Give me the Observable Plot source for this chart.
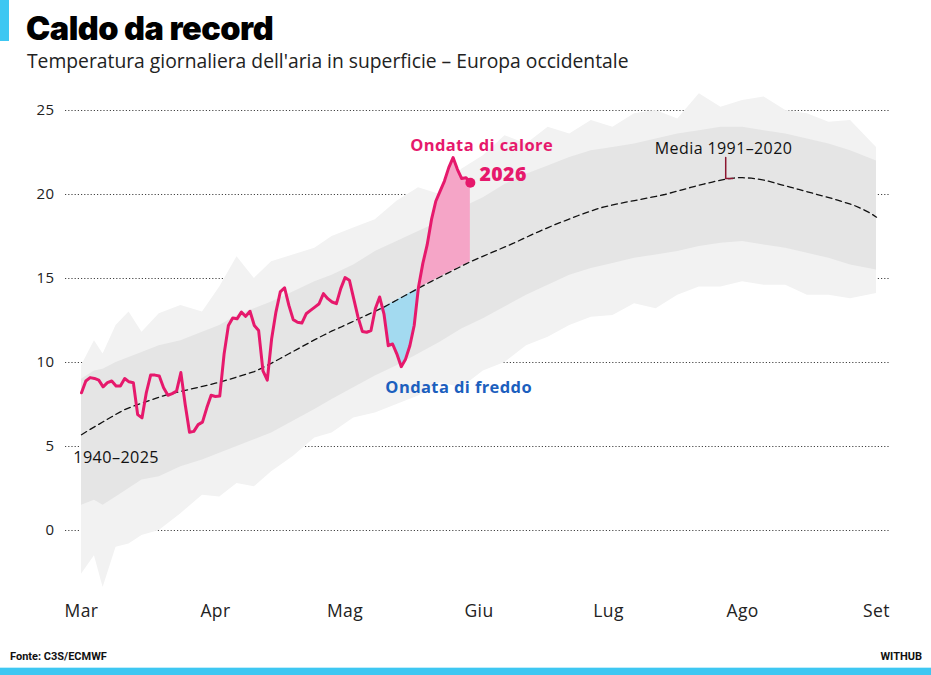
<!DOCTYPE html>
<html lang="it">
<head>
<meta charset="utf-8">
<script src="https://cdn.jsdelivr.net/npm/d3@7"></script>
<script src="https://cdn.jsdelivr.net/npm/@observablehq/plot@0.6"></script>
<style>
  html, body { margin: 0; padding: 0; background: #fff; }
  body { width: 931px; height: 675px; position: relative; overflow: hidden; font-family: "Open Sans", sans-serif; }
  .accent { position: absolute; left: 0; top: 0; width: 9px; height: 41px; background: #3ec7f2; }
  h1 { position: absolute; left: 26px; top: 11px; margin: 0; font-family: Inter, sans-serif; font-weight: 900; font-size: 32.5px; letter-spacing: -0.5px; color: #000; line-height: 1.1; }
  .sub { position: absolute; left: 27px; top: 49px; margin: 0; font-size: 19.3px; color: #222; line-height: 1.2; }
  #chart { position: absolute; left: 0; top: 80px; }
  #chart svg text { letter-spacing: 0.4px; }
  .src { position: absolute; left: 10px; top: 650px; font-family: "Liberation Sans Narrow", "Roboto", sans-serif; font-weight: 700; font-size: 11px; color: #111; }
  .brand { position: absolute; right: 9px; top: 650px; font-family: "Liberation Sans Narrow", "Roboto", sans-serif; font-weight: 700; font-size: 11px; color: #111; }
  .bar { position: absolute; left: 0; bottom: 0; width: 931px; height: 7px; background: #3ec7f2; border-top: 1px solid #bfeefc; }
</style>
</head>
<body>
<div class="accent"></div>
<h1>Caldo da record</h1>
<p class="sub">Temperatura giornaliera dell'aria in superficie – Europa occidentale</p>
<div id="chart"></div>
<div class="src">Fonte: C3S/ECMWF</div>
<div class="brand">WITHUB</div>
<div class="bar"></div>
<script>
// Season runs from 1 March to 1 September; day index 0 = 1 March
const seasonStart = new Date(Date.UTC(2026, 2, 1));
const monthLabels = ["Mar", "Apr", "Mag", "Giu", "Lug", "Ago", "Set"];
const yTicks = [0, 5, 10, 15, 20, 25];

// 2026 daily temperature (°C), 1 March – 30 May
const temp2026 = [
  8.2, 8.9, 9.1, 9.05, 8.95, 8.55, 8.8, 8.9, 8.6, 8.6,
  9.05, 8.85, 8.8, 6.9, 6.7, 8.2, 9.25, 9.25, 9.2, 8.5,
  8.05, 8.15, 8.3, 9.4, 7.5, 5.85, 5.9, 6.3, 6.45, 7.3,
  8.05, 7.98, 8.0, 10.5, 12.2, 12.65, 12.6, 13.0, 12.75, 13.05,
  12.2, 11.9, 9.5, 8.95, 11.4, 13.0, 14.2, 14.45, 13.4, 12.55,
  12.4, 12.35, 12.9, 13.1, 13.3, 13.5, 14.1, 13.8, 13.6, 13.5,
  14.4, 15.05, 14.9, 13.8, 12.7, 11.85, 11.8, 11.9, 13.2, 13.9,
  12.9, 11.0, 11.1, 10.5, 9.75, 10.2, 11.0, 12.2, 14.5, 15.9,
  17.0, 18.5, 19.6, 20.2, 20.8, 21.6, 22.2, 21.5, 20.95, 21.0,
  20.7
];

// Daily mean 1991–2020 (°C), 1 March – 1 September
const media = [
  5.70, 5.86, 6.02, 6.17, 6.32, 6.47, 6.62, 6.77, 6.92, 7.06,
  7.20, 7.30, 7.40, 7.49, 7.58, 7.67, 7.76, 7.85, 7.94, 8.02,
  8.10, 8.16, 8.22, 8.28, 8.34, 8.40, 8.46, 8.52, 8.58, 8.64,
  8.70, 8.77, 8.84, 8.91, 8.98, 9.06, 9.14, 9.22, 9.30, 9.38,
  9.46, 9.58, 9.70, 9.83, 9.96, 10.10, 10.24, 10.38, 10.52, 10.66,
  10.80, 10.94, 11.08, 11.22, 11.36, 11.49, 11.62, 11.75, 11.88, 11.99,
  12.10, 12.22, 12.34, 12.46, 12.58, 12.70, 12.82, 12.94, 13.06, 13.18,
  13.30, 13.44, 13.58, 13.72, 13.86, 14.00, 14.14, 14.28, 14.42, 14.56,
  14.70, 14.83, 14.96, 15.09, 15.22, 15.35, 15.48, 15.61, 15.74, 15.87,
  16.00, 16.11, 16.22, 16.33, 16.44, 16.55, 16.66, 16.77, 16.88, 16.99,
  17.10, 17.22, 17.34, 17.46, 17.58, 17.70, 17.81, 17.92, 18.03, 18.14,
  18.25, 18.35, 18.45, 18.55, 18.65, 18.75, 18.84, 18.93, 19.02, 19.11,
  19.20, 19.26, 19.32, 19.38, 19.44, 19.49, 19.54, 19.59, 19.64, 19.69,
  19.74, 19.79, 19.84, 19.89, 19.94, 20.00, 20.07, 20.14, 20.21, 20.28,
  20.35, 20.42, 20.49, 20.56, 20.62, 20.68, 20.74, 20.80, 20.86, 20.91,
  20.95, 20.98, 21.00, 21.00, 20.99, 20.97, 20.94, 20.90, 20.85, 20.79,
  20.72, 20.65, 20.58, 20.51, 20.44, 20.37, 20.30, 20.23, 20.16, 20.09,
  20.02, 19.95, 19.88, 19.81, 19.74, 19.66, 19.58, 19.50, 19.42, 19.33,
  19.22, 19.10, 18.97, 18.82, 18.65
];

// Spread of the 1940–2025 daily series: full range and dense core
const bandDays = [0, 3, 5, 8, 11, 14, 18, 23, 28, 32, 36, 40, 44, 49, 54, 58, 63, 68, 73, 78, 83, 88, 93, 98, 103, 108, 113, 118, 123, 128, 133, 138, 143, 148, 153, 158, 163, 168, 173, 178, 184];
const histMax  = [9.8, 11.3, 10.5, 12.2, 13.0, 11.8, 12.9, 13.4, 13.0, 14.5, 16.3, 15.0, 16.0, 16.4, 16.8, 17.5, 18.0, 18.5, 19.6, 20.4, 20.0, 21.5, 22.3, 23.5, 23.0, 24.0, 23.6, 24.4, 24.0, 24.8, 25.0, 24.5, 26.0, 25.2, 25.6, 25.8, 25.0, 24.8, 24.3, 24.4, 22.8];
const histMin  = [-2.6, -1.5, -3.4, -1.0, -0.8, -0.3, 0.0, 1.0, 2.1, 2.0, 2.8, 2.6, 3.5, 4.4, 5.5, 5.8, 6.7, 7.0, 7.5, 8.0, 8.8, 8.5, 9.5, 10.0, 11.0, 11.5, 12.2, 12.7, 12.8, 13.5, 13.2, 14.0, 14.5, 14.5, 14.8, 14.6, 14.6, 14.0, 14.0, 13.8, 14.1];
const coreLow  = [1.5, 1.8, 1.5, 2.0, 2.5, 3.0, 3.2, 3.8, 4.2, 4.6, 5.0, 5.4, 5.8, 6.5, 7.2, 7.8, 8.5, 9.2, 9.8, 10.5, 11.2, 12.0, 12.6, 13.3, 14.0, 14.6, 15.2, 15.6, 15.9, 16.2, 16.4, 16.6, 16.9, 17.1, 17.2, 17.0, 16.8, 16.5, 16.2, 15.8, 15.5];
const coreHigh = [9.0, 9.5, 9.6, 10.0, 10.3, 10.6, 11.0, 11.3, 11.8, 12.2, 12.8, 13.2, 13.6, 14.2, 14.8, 15.2, 15.8, 16.6, 17.2, 17.8, 18.4, 19.2, 19.8, 20.6, 21.2, 21.7, 22.2, 22.6, 22.8, 23.0, 23.3, 23.6, 23.8, 24.0, 24.0, 23.8, 23.6, 23.3, 23.0, 22.6, 22.0];

// Day ranges of the two highlighted spells
const coldSpell = [69, 78];
const heatSpell = [78, 90];

// Annotation anchors (day index, °C)
const labelCalore = {day: 92.6, t: 22.9, text: "Ondata di calore"};
const label2026 = {day: 92.1, t: 21.2, text: "2026"};
const labelFreddo = {day: 87.3, t: 8.5, text: "Ondata di freddo"};
const labelStorico = {day: -1.9, t: 4.3, text: "1940–2025"};
const labelMedia = {day: 148.6, t: 22.7, text: "Media 1991–2020"};
const mediaLeader = [{day: 149.1, t: 22.2}, {day: 149.1, t: 20.95}, {day: 150.7, t: 20.95}];

const dayToDate = (d) => new Date(seasonStart.getTime() + d * 864e5);
const monthStarts = monthLabels.map((_, i) => d3.utcMonth.offset(seasonStart, i));
const monthName = new Map(monthStarts.map((d, i) => [+d, monthLabels[i]]));

const series2026 = temp2026.map((t, i) => ({date: dayToDate(i), t, m: media[i], i}));
const seriesMedia = media.map((m, i) => ({date: dayToDate(i), m}));
const band = bandDays.map((d, i) => ({date: dayToDate(d), lo: histMin[i], hi: histMax[i], clo: coreLow[i], chi: coreHigh[i]}));
const cold = series2026.filter((d) => d.i >= coldSpell[0] && d.i <= coldSpell[1]);
const heat = series2026.filter((d) => d.i >= heatSpell[0] && d.i <= heatSpell[1]);
const last = series2026[series2026.length - 1];
const at = (o) => [{date: dayToDate(o.day), t: o.t, text: o.text}];

const pink = "#e6196c";
const font = "'Open Sans', sans-serif";

const chart = Plot.plot({
  width: 931,
  height: 560,
  marginLeft: 65,
  marginRight: 41,
  marginTop: 30,
  marginBottom: 110,
  style: {fontFamily: font, background: "transparent", overflow: "visible"},
  x: {type: "utc", domain: [seasonStart, dayToDate(184)], insetLeft: 16, insetRight: 14},
  y: {domain: [0, 25]},
  marks: [
    Plot.ruleY(yTicks, {stroke: "#444", strokeWidth: 1, strokeDasharray: "1.2,2"}),
    Plot.areaY(band, {x: "date", y1: "lo", y2: "hi", fill: "#f2f2f2", curve: "linear"}),
    Plot.areaY(band, {x: "date", y1: "clo", y2: "chi", fill: "#e5e5e5", curve: "linear"}),
    Plot.areaY(heat, {x: "date", y1: "m", y2: (d) => Math.max(d.t, d.m), fill: "#f5a5c7"}),
    Plot.areaY(cold, {x: "date", y1: "m", y2: (d) => Math.min(d.t, d.m), fill: "#a3daf0"}),
    Plot.line(seriesMedia, {x: "date", y: "m", stroke: "#111", strokeWidth: 1.3, strokeDasharray: "6,4"}),
    Plot.line(series2026, {x: "date", y: "t", stroke: pink, strokeWidth: 3, strokeLinejoin: "round"}),
    Plot.dot([last], {x: "date", y: "t", r: 5, fill: pink}),
    Plot.line(mediaLeader, {x: (d) => dayToDate(d.day), y: "t", stroke: "#8c1630", strokeWidth: 1.5}),
    Plot.text(at(labelCalore), {x: "date", y: "t", text: "text", fill: pink, fontWeight: 700, fontSize: 16.5}),
    Plot.text(at(label2026), {x: "date", y: "t", text: "text", fill: pink, fontWeight: 800, fontSize: 19.5, textAnchor: "start"}),
    Plot.text(at(labelFreddo), {x: "date", y: "t", text: "text", fill: "#1c5fbe", fontWeight: 700, fontSize: 16.5}),
    Plot.text(at(labelStorico), {x: "date", y: "t", text: "text", fill: "#111", fontSize: 16.2, textAnchor: "start"}),
    Plot.text(at(labelMedia), {x: "date", y: "t", text: "text", fill: "#111", fontSize: 16}),
    Plot.axisY(yTicks, {tickSize: 0, tickPadding: 11, fontSize: 15, fill: "#222", label: null}),
    Plot.axisX(monthStarts, {tickSize: 0, tickPadding: 74, fontSize: 17.5, fill: "#222", label: null, tickFormat: (d) => monthName.get(+d)})
  ]
});
document.getElementById("chart").appendChild(chart);
</script>
</body>
</html>
